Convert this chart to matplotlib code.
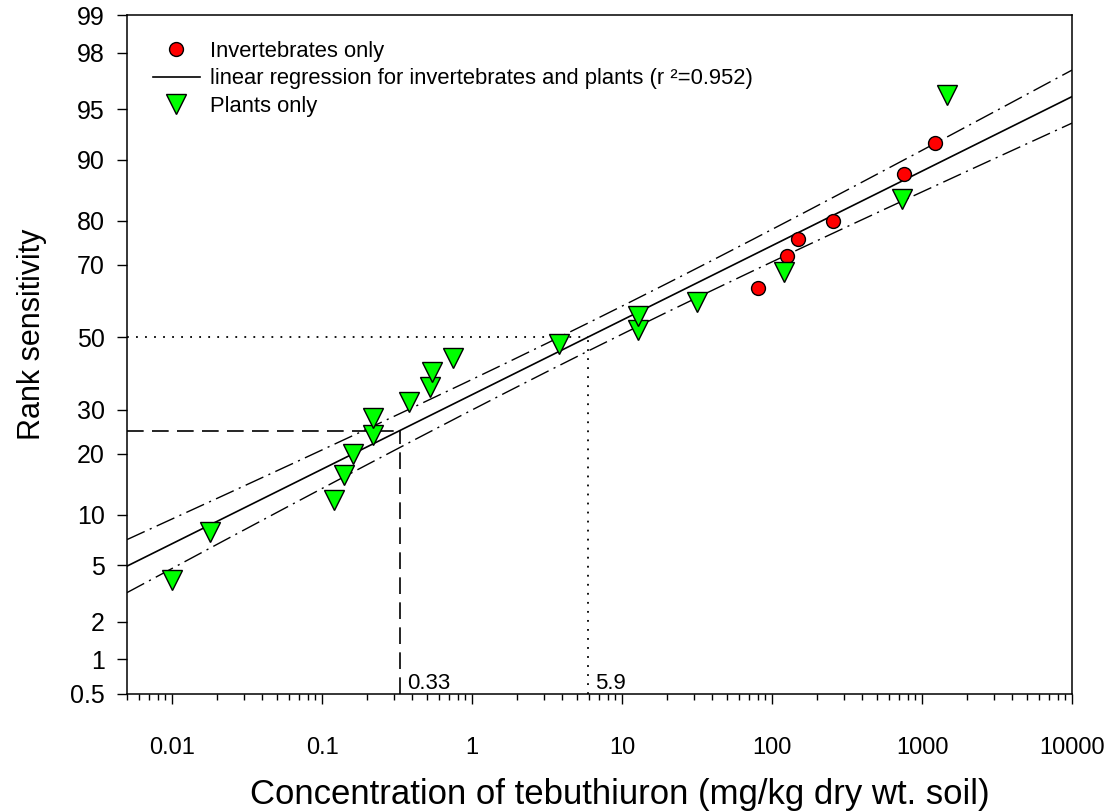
import math
import statistics
import numpy as np
import matplotlib
matplotlib.use("Agg")
import matplotlib.pyplot as plt
from matplotlib.lines import Line2D
from matplotlib.ticker import FixedLocator, FixedFormatter, LogLocator, NullFormatter

# Data (concentration in mg/kg, rank sensitivity in %)
invert_conc = [81, 126, 148, 253, 755, 1228]
invert_rank = [64, 72, 76, 80, 88, 92]

plant_conc = [0.010, 0.018, 0.12, 0.14, 0.16, 0.22, 0.22, 0.38, 0.52, 0.54,
              0.75, 3.8, 12.8, 12.8, 31.6, 120, 735, 1468]
plant_rank = [4, 8, 12, 16, 20, 24, 28, 32, 36, 40,
              44, 48, 52, 56, 60, 68, 84, 96]

# regression (probit of rank vs log10 conc) and its confidence band
hc50 = 5.9
hc25 = 0.33
slope = 0.538        # probit units per decade
ci_w0 = 0.101        # half width at centre, probit units
ci_k = 0.0516        # growth of half width per decade
ci_centre = 0.85     # log10 conc of narrowest point

y_ticks = [0.5, 1, 2, 5, 10, 20, 30, 50, 70, 80, 90, 95, 98, 99]
x_ticks = [0.01, 0.1, 1, 10, 100, 1000, 10000]
x_tick_labels = ["0.01", "0.1", "1", "10", "100", "1000", "10000"]
x_lim = (0.005, 10000)
y_lim = (0.5, 99)

_nd = statistics.NormalDist()


def probit(p):
    p = np.asarray(p, dtype=float)
    flat = p.ravel() / 100.0
    z = []
    for v in flat:
        if not np.isfinite(v):
            z.append(np.nan)
        else:
            z.append(_nd.inv_cdf(min(max(v, 1e-12), 1 - 1e-12)))
    return np.array(z, dtype=float).reshape(p.shape)


_erf = np.vectorize(math.erf, otypes=[float])


def inv_probit(z):
    z = np.asarray(z, dtype=float)
    return 50.0 * (1.0 + _erf(z / math.sqrt(2.0)))


plt.rcParams['font.family'] = ['Liberation Sans', 'DejaVu Sans']

fig = plt.figure(figsize=(11.13, 8.11), dpi=100)
ax = fig.add_axes([0.1141, 0.1443, 0.8491, 0.8372])
ax.set_xscale('log')
ax.set_yscale('function', functions=(probit, inv_probit))
ax.set_xlim(*x_lim)
ax.set_ylim(*y_lim)

# regression line and confidence limits
L = np.linspace(np.log10(x_lim[0]), np.log10(x_lim[1]), 300)
z_fit = slope * (L - np.log10(hc50))
half = np.sqrt(ci_w0 ** 2 + (ci_k * (L - ci_centre)) ** 2)
xs = 10 ** L
ax.plot(xs, inv_probit(z_fit), color='black', lw=1.2, zorder=3)
ax.plot(xs, inv_probit(z_fit + half), color='black', lw=1.0,
        dashes=(14, 4, 1.5, 4), zorder=3)
ax.plot(xs, inv_probit(z_fit - half), color='black', lw=1.0,
        dashes=(14, 4, 1.5, 4), zorder=3)

# guide lines to HC25 and HC50
ax.hlines(25, x_lim[0], hc25, color='black', lw=1.2, linestyles=(0, (10, 5)), zorder=2)
ax.vlines(hc25, y_lim[0], 25, color='black', lw=1.2, linestyles=(0, (10, 5)), zorder=2)
ax.hlines(50, x_lim[0], hc50, color='black', lw=1.3, linestyles=(0, (1, 4)), zorder=2)
ax.vlines(hc50, y_lim[0], 50, color='black', lw=1.3, linestyles=(0, (1, 4)), zorder=2)
ax.text(hc25 * 1.12, y_lim[0], "0.33", fontsize=16, ha='left', va='bottom')
ax.text(hc50 * 1.12, y_lim[0], "5.9", fontsize=16, ha='left', va='bottom')

# data points
ax.plot(invert_conc, invert_rank, linestyle='none', marker='o', ms=10,
        mfc='#ff0000', mec='black', mew=1.0, zorder=5)
ax.plot(plant_conc, plant_rank, linestyle='none', marker='v', ms=14,
        mfc='#00ff00', mec='black', mew=1.0, zorder=5)

# axes styling
ax.yaxis.set_major_locator(FixedLocator(y_ticks))
ax.yaxis.set_major_formatter(FixedFormatter([f"{t:g}" for t in y_ticks]))
ax.yaxis.set_minor_locator(FixedLocator([]))
ax.xaxis.set_major_locator(FixedLocator(x_ticks))
ax.xaxis.set_major_formatter(FixedFormatter(x_tick_labels))
ax.xaxis.set_minor_locator(LogLocator(base=10, subs=np.arange(2, 10), numticks=20))
ax.xaxis.set_minor_formatter(NullFormatter())
ax.tick_params(axis='both', which='major', direction='out', length=7, width=1.0)
ax.tick_params(axis='x', which='minor', direction='out', length=4.5, width=1.0)
ax.tick_params(axis='x', which='major', pad=24, labelsize=17)
ax.tick_params(axis='y', which='major', pad=9, labelsize=18)
for sp in ax.spines.values():
    sp.set_linewidth(1.1)

ax.set_xlabel("Concentration of tebuthiuron (mg/kg dry wt. soil)", fontsize=25)
ax.xaxis.set_label_coords(0.5217, -0.124)
ax.set_ylabel("Rank sensitivity", fontsize=22)
ax.yaxis.set_label_coords(-0.085, 0.53)

handles = [
    Line2D([], [], linestyle='none', marker='o', ms=10, mfc='#ff0000', mec='black', mew=1.0),
    Line2D([], [], color='black', lw=1.2),
    Line2D([], [], linestyle='none', marker='v', ms=14, mfc='#00ff00', mec='black', mew=1.0),
]
labels = ["Invertebrates only",
          "linear regression for invertebrates and plants (r \u00b2=0.952)",
          "Plants only"]
ax.legend(handles, labels, loc='upper left', bbox_to_anchor=(0.027, 0.962),
          frameon=False, fontsize=15.8, handlelength=2.15, handletextpad=0.45,
          labelspacing=0.3, borderaxespad=0, borderpad=0)

fig.savefig("out.png", dpi=100)
